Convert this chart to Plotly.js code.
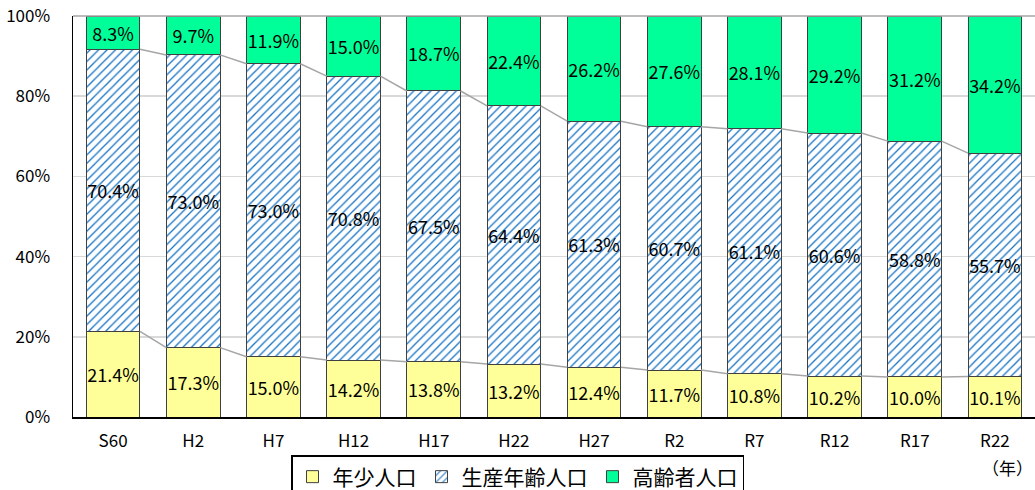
<!DOCTYPE html>
<html>
<head>
<meta charset="utf-8">
<script src="https://cdn.plot.ly/plotly-3.0.1.min.js"></script>
<style>html,body{margin:0;padding:0;background:#fff;}#chart{width:1035px;height:490px;}</style>
</head>
<body>
<div id="chart"></div>
<script>
const categories = ["S60","H2","H7","H12","H17","H22","H27","R2","R7","R12","R17","R22"];
const youngPop = [21.4,17.3,15.0,14.2,13.8,13.2,12.4,11.7,10.8,10.2,10.0,10.1];
const workingPop = [70.4,73.0,73.0,70.8,67.5,64.4,61.3,60.7,61.1,60.6,58.8,55.7];
const elderlyPop = [8.3,9.7,11.9,15.0,18.7,22.4,26.2,27.6,28.1,29.2,31.2,34.2];
const seriesNames = ["年少人口","生産年齢人口","高齢者人口"];
const yTicks = [0,20,40,60,80,100];
const yTickLabels = ["0%","20%","40%","60%","80%","100%"];

const FONT = '"Noto Sans CJK JP", "Noto Sans", sans-serif';
const idx = categories.map((c,i)=>i);
const bargap = 0.33;
const half = (1-bargap)/2;

function barTrace(vals, name, marker){
  return {
    type:'bar', x: idx, y: vals, name: name,
    text: vals.map(v=>v.toFixed(1)+'%'),
    textposition:'inside', insidetextanchor:'middle', textangle:0,
    constraintext:'none',
    textfont:{family:FONT, size:18, color:'#000'},
    marker: marker, hoverinfo:'skip', cliponaxis:false
  };
}

const outline = {color:'#404040', width:1};
const traces = [
  barTrace(youngPop, seriesNames[0], {color:'#FFFF99', line:outline}),
  barTrace(workingPop, seriesNames[1], {color:'#ffffff', line:outline,
    pattern:{shape:'/', fgcolor:'#1a75c4', bgcolor:'#ffffff', size:6, solidity:0.22}}),
  barTrace(elderlyPop, seriesNames[2], {color:'#00FF99', line:outline})
];

// series lines (connect stack boundaries between neighbouring bars)
const totals = idx.map(i=>youngPop[i]+workingPop[i]+elderlyPop[i]);
const b1 = idx.map(i=>youngPop[i]/totals[i]*100);
const b2 = idx.map(i=>(youngPop[i]+workingPop[i])/totals[i]*100);
function seriesLine(b){
  const xs=[], ys=[];
  for(let i=0;i<idx.length-1;i++){
    xs.push(i+half, i+1-half, null);
    ys.push(b[i], b[i+1], null);
  }
  return {type:'scatter', mode:'lines', x:xs, y:ys, showlegend:false, hoverinfo:'skip',
    line:{color:'#a6a6a6', width:1.5}};
}
traces.push(seriesLine(b1), seriesLine(b2));

const layout = {
  width:1035, height:490,
  margin:{l:73, r:0, t:16, b:73},
  paper_bgcolor:'#fff', plot_bgcolor:'#fff',
  barmode:'stack', barnorm:'percent', bargap:bargap,
  font:{family:FONT, size:17, color:'#000'},
  xaxis:{type:'linear', range:[-0.5, categories.length-0.5], tickvals:idx, ticktext:categories,
    showgrid:false, zeroline:false, showline:true, linecolor:'#000', linewidth:1.5,
    ticks:'', ticklabelstandoff:8, tickfont:{family:FONT, size:17, color:'#000'}},
  yaxis:{range:[0,100], tickvals:yTicks, ticktext:yTickLabels,
    showgrid:true, gridcolor:'#d9d9d9', gridwidth:1.5, zeroline:false,
    showline:true, linecolor:'#000', linewidth:1.5, ticks:'', ticklabelstandoff:18,
    tickfont:{family:FONT, size:17, color:'#000'}},
  showlegend:true,
  legend:{orientation:'h', xref:'container', x:0.5, xanchor:'center',
    yref:'container', y:1-455/490, yanchor:'top', traceorder:'normal',
    bordercolor:'#000', borderwidth:1.5, bgcolor:'#fff',
    font:{family:FONT, size:21, color:'#000'}, itemwidth:30},
  shapes:[{type:'line', xref:'paper', yref:'paper', x0:0, x1:1, y0:1, y1:1,
    line:{color:'#a6a6a6', width:1.5}}],
  annotations:[{text:'（年）', xref:'paper', yref:'paper', x:1, y:0, xanchor:'right', yanchor:'top',
    yshift:-36, showarrow:false, font:{family:FONT, size:17, color:'#000'}}]
};

Plotly.newPlot('chart', traces, layout, {displayModeBar:false, staticPlot:true});
</script>
</body>
</html>
